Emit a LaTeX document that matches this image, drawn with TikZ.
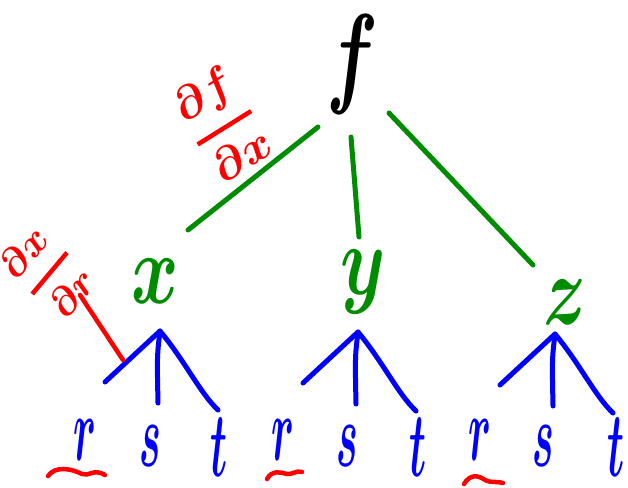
\RequirePackage{fix-cm}
\documentclass[tikz,border=0pt]{standalone}
\usetikzlibrary{calc}
\definecolor{mygreen}{RGB}{0,140,0}
\begin{document}
\begin{tikzpicture}[x=1pt,y=-1pt,line cap=round,line join=round,
  gline/.style={draw=mygreen,line width=5pt},
  bline/.style={draw=blue,line width=5pt},
  rline/.style={draw=red,line width=4.5pt},
  letter/.style={inner sep=0pt,anchor=base,font=\fontsize{100}{100}\selectfont\boldmath,xscale=0.72},
  leaf/.style={letter,text=blue,font=\fontsize{92}{92}\selectfont\boldmath,xscale=0.62},
  frac/.style={inner sep=0pt,text=red,font=\fontsize{46}{46}\selectfont\boldmath}]
\useasboundingbox (0,0) rectangle (628,487);
% root and middle layer
\node[letter,text=black,font=\fontsize{112}{112}\selectfont\boldmath,xscale=0.95] (f) at (352,92) {$f$};
\node[letter,text=mygreen] (x) at (155,303) {$x$};
\node[letter,text=mygreen] (y) at (363,294) {$y$};
\node[letter,text=mygreen] (z) at (565,324) {$z$};
% green connectors
\coordinate (fx1) at (318,127); \coordinate (fx2) at (188,230);
\coordinate (fy1) at (351,137); \coordinate (fy2) at (359,237);
\coordinate (fz1) at (389,113); \coordinate (fz2) at (533,265);
\draw[gline] (fx1) -- (fx2);
\draw[gline] (fy1) -- (fy2);
\draw[gline] (fz1) -- (fz2);
% blue trees
\foreach \n/\ax/\ay in {a/160/331,b/358/332,c/555/334}{
  \coordinate (apex\n) at (\ax,\ay);
  \coordinate (L\n) at ($(apex\n)+(-55,51)$);
  \coordinate (M\n) at ($(apex\n)+(-2,72)$);
  \coordinate (R\n) at ($(apex\n)+(58,79)$);
  \draw[bline] (L\n) -- (apex\n) .. controls ($(apex\n)+(25,30)$) and ($(apex\n)+(40,62)$) .. (R\n);
  \draw[bline] (apex\n) .. controls ($(apex\n)+(-3,25)$) .. (M\n);
}
% leaves
\node[leaf] (r1) at (85,460) {$r$};
\node[leaf] (s1) at (150,466) {$s$};
\node[leaf] (t1) at (219,476) {$t$};
\node[leaf] (r2) at (283,460) {$r$};
\node[leaf] (s2) at (347,466) {$s$};
\node[leaf] (t2) at (418,476) {$t$};
\node[leaf] (r3) at (480,460) {$r$};
\node[leaf] (s3) at (543,466) {$s$};
\node[leaf] (t3) at (616,476) {$t$};
% red squiggles
\draw[rline] (48,476) .. controls (55,466) and (70,468) .. (82,474) .. controls (88,477) and (94,468) .. (105,475);
\draw[rline] (267,479) .. controls (272,470) and (280,472) .. (287,474) .. controls (292,475) and (296,470) .. (302,472);
\draw[rline] (464,484) .. controls (470,474) and (478,475) .. (485,480) .. controls (490,483) and (495,481) .. (503,483);
% derivative labels
\node[frac,rotate=32] (dfdx) at (222,124) {$\displaystyle{\partial f\above 4.5pt\partial x}$};
\node[frac,rotate=50,font=\fontsize{40}{40}\selectfont\boldmath] (dxdr) at (48,272) {$\displaystyle{\partial x\above 4.5pt\partial r}$};
\coordinate (rl1) at (80,295); \coordinate (rl2) at (123,360);
\draw[rline] (rl1) -- (rl2);
\end{tikzpicture}
\end{document}
